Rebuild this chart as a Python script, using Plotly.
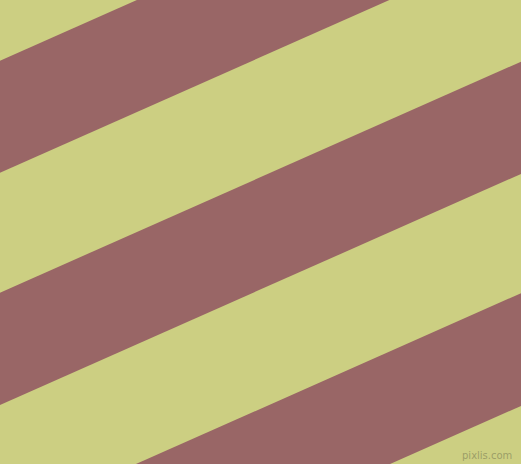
import plotly.graph_objects as go

# Canvas size (pixels)
WIDTH = 521
HEIGHT = 464

# Stripe boundaries: y-intercept at the left edge (x=0, y measured downward)
stripe_top = [60.7, 292.7, 524.3]
stripe_bottom = [172.7, 405.0, 637.0]
# Boundary slope (dy/dx, y downward)
slope = -0.4435

background_color = "#CCCF82"
stripe_color = "#996666"

fig = go.Figure()
for a, b in zip(stripe_top, stripe_bottom):
    xs = [0, WIDTH, WIDTH, 0, 0]
    ys = [a, a + slope * WIDTH, b + slope * WIDTH, b, a]
    fig.add_trace(go.Scatter(
        x=xs, y=ys, mode="lines", fill="toself",
        fillcolor=stripe_color, line=dict(width=0, color=stripe_color),
        hoverinfo="skip", showlegend=False,
    ))

fig.add_annotation(
    x=514, y=455.5, xref="x", yref="y", text="pixlis.com",
    showarrow=False, xanchor="right", yanchor="middle",
    font=dict(family="DejaVu Sans", size=10, color="rgba(150,152,100,0.9)"),
)

fig.update_xaxes(range=[0, WIDTH], visible=False, fixedrange=True)
fig.update_yaxes(range=[HEIGHT, 0], visible=False, fixedrange=True)
fig.update_layout(
    width=WIDTH, height=HEIGHT,
    margin=dict(l=0, r=0, t=0, b=0),
    paper_bgcolor=background_color, plot_bgcolor=background_color,
)
fig.write_html(
    "out.html",
    config={"displayModeBar": False},
    post_script="document.body.style.margin='0';document.body.style.overflow='hidden';",
)
